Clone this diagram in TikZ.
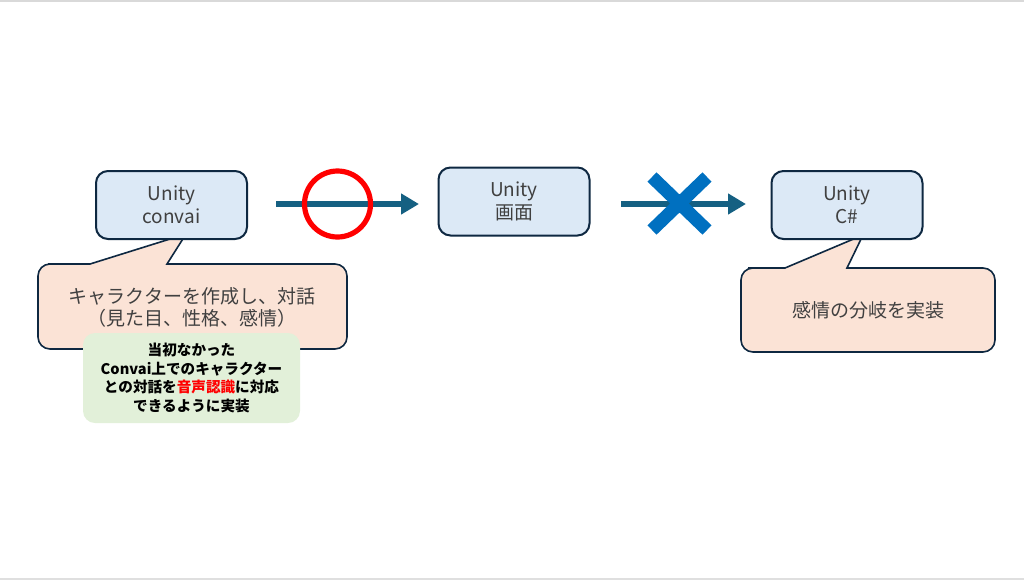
\documentclass[tikz,border=0pt]{standalone}
\usepackage{fontspec}
\setmainfont{Noto Sans CJK JP}
\usetikzlibrary{arrows.meta,shapes.misc}
\definecolor{boxfill}{HTML}{DCE9F6}
\definecolor{boxline}{HTML}{0E2841}
\definecolor{arrowblue}{HTML}{156082}
\definecolor{notefill}{HTML}{FBE3D6}
\definecolor{greenfill}{HTML}{E2F0D9}
\definecolor{crossblue}{HTML}{0070C0}
\definecolor{textgray}{HTML}{404040}
\tikzset{
  unitybox/.style={draw=boxline, line width=1pt, fill=boxfill, rounded corners=6pt,
    minimum width=75.5pt, minimum height=34pt, align=center, text=textgray,
    font=\fontsize{9.5}{11.5}\selectfont},
  flowarrow/.style={draw=arrowblue, line width=2.6pt, -{Triangle[length=9pt,width=10pt]}},
  calloutshape/.style={draw=boxline, line width=0.8pt, fill=notefill},
  callouttext/.style={align=center, text=textgray, font=\fontsize{9.5}{11}\selectfont},
  greenbox/.style={fill=greenfill, rounded corners=6pt, minimum width=108.5pt,
    minimum height=45pt, align=center, font=\fontsize{7.3}{9.3}\selectfont\bfseries}
}

\begin{document}
\begin{tikzpicture}[x=0.5pt, y=-0.5pt]
    \useasboundingbox (0,0) rectangle (1024,580);
    \draw[gray!30, line width=1pt] (0,1) -- (1024,1);
    \draw[gray!25, line width=1pt] (0,579) -- (1024,579);

    % Callouts
    \draw[calloutshape] (90,264) -- (186,234) -- (167,264) -- (200,264)
        [rounded corners=6pt] -- (347,264) -- (347,349) -- (38,349) -- (38,264) -- (60,264)
        [sharp corners] -- cycle;
    \node[callouttext] (note1) at (192,307) {キャラクターを作成し、対話\\（見た目、性格、感情）};
    \node[greenbox] (voice) at (191.5,378) {当初なかった\\Convai上でのキャラクター\\との対話を{\color{red}音声認識}に対応\\できるように実装};

    \draw[calloutshape] (785,268) -- (863,235) -- (847,268) -- (880,268)
        [rounded corners=6pt] -- (995,268) -- (995,352) -- (741,352) -- (741,268) -- (760,268)
        [sharp corners] -- cycle;
    \node[callouttext] (note2) at (868,310) {感情の分岐を実装};

    % Unity boxes
    \node[unitybox] (convai) at (171.5,205) {Unity\\convai};
    \node[unitybox] (screen) at (514,201.5) {Unity\\画面};
    \node[unitybox] (csharp) at (847,205) {Unity\\C\#};

    % Arrows
    \coordinate (a1s) at (276,204);
    \coordinate (a1e) at (419,204);
    \coordinate (a2s) at (621,204);
    \coordinate (a2e) at (746,204);
    \draw[flowarrow] (a1s) -- (a1e);
    \draw[flowarrow] (a2s) -- (a2e);

    % Marks
    \node[circle, draw=red, line width=2.6pt, minimum size=33pt, inner sep=0pt] (ok) at (337.5,204) {};
    \node[cross out, draw=crossblue, line width=6.5pt, minimum width=21pt, minimum height=20pt, inner sep=0pt] (ng) at (679.5,203.5) {};

\end{tikzpicture}
\end{document}
